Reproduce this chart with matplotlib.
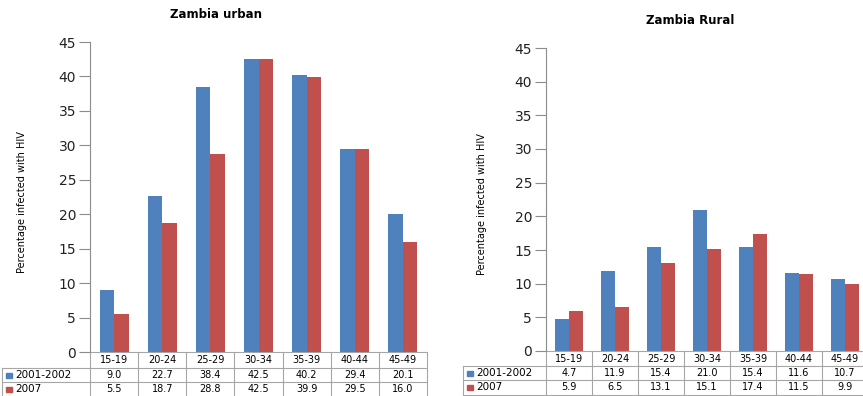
import matplotlib
matplotlib.use("Agg")
import matplotlib.pyplot as plt
from matplotlib.transforms import blended_transform_factory
from matplotlib.patches import Rectangle

GRUPOS = ["15-19", "20-24", "25-29", "30-34", "35-39", "40-44", "45-49"]
SERIES = ["2001-2002", "2007"]
URBANO_2001 = [9.0, 22.7, 38.4, 42.5, 40.2, 29.4, 20.1]
URBANO_2007 = [5.5, 18.7, 28.8, 42.5, 39.9, 29.5, 16.0]
RURAL_2001 = [4.7, 11.9, 15.4, 21.0, 15.4, 11.6, 10.7]
RURAL_2007 = [5.9, 6.5, 13.1, 15.1, 17.4, 11.5, 9.9]

CORES = ["#4F81BD", "#C0504D"]
CINZA = "#8C8C8C"
W, H = 863, 396

fig = plt.figure(figsize=(W / 100, H / 100), dpi=100)


def fx(x):
    return x / W


def fy(y):
    # y em pixels a partir do topo
    return 1 - y / H


def painel(x0, x1, ytop, ybot, titulo, tx, ty, series, lab_x, linhas, leg_x0):
    ax = fig.add_axes([fx(x0), fy(ybot), fx(x1 - x0), fy(ytop) - fy(ybot)])
    n = len(GRUPOS)
    pos = list(range(n))
    larg = 0.3
    for i, (vals, cor) in enumerate(zip(series, CORES)):
        ax.bar([p + (i - 0.5) * larg for p in pos], vals, width=larg,
               color=cor, edgecolor="none")
    ax.set_xlim(-0.5, n - 0.5)
    ax.set_ylim(0, 45)
    ax.set_yticks(range(0, 46, 5))
    ax.set_xticks([])
    for s in ["top", "right", "bottom"]:
        ax.spines[s].set_visible(False)
    ax.spines["left"].set_color(CINZA)
    ax.tick_params(axis="y", length=8, color=CINZA, labelsize=10,
                   pad=2, labelcolor="#222222")
    fig.text(fx(tx), fy(ty), titulo, ha="center", va="center",
             fontsize=8.5, fontweight="bold")
    fig.text(fx(lab_x), fy((ytop + ybot) / 2 + 5),
             "Percentage infected with HIV", rotation=90,
             ha="center", va="center", fontsize=7)

    # tabela de dados abaixo do eixo
    tr = blended_transform_factory(ax.transData, fig.transFigure)
    y_top, y_l1, y_l2, y_bot = linhas
    kw = dict(color="#A6A6A6", lw=0.8, clip_on=False)
    for y in (y_top, y_l1, y_l2, y_bot):
        ax.plot([-0.5, n - 0.5], [fy(y)] * 2, transform=tr, **kw)
    for i in range(n + 1):
        ax.plot([i - 0.5] * 2, [fy(y_top), fy(y_bot)], transform=tr, **kw)
    fl = fig.transFigure
    for y in (y_l1, y_l2, y_bot):
        fig.add_artist(plt.Line2D([fx(leg_x0), fx(x0)], [fy(y)] * 2,
                                  transform=fl, color="#A6A6A6", lw=0.8))
    fig.add_artist(plt.Line2D([fx(leg_x0)] * 2, [fy(y_l1), fy(y_bot)],
                              transform=fl, color="#A6A6A6", lw=0.8))

    yc = [(y_top + y_l1) / 2, (y_l1 + y_l2) / 2, (y_l2 + y_bot) / 2]
    for i, g in enumerate(GRUPOS):
        ax.text(i, fy(yc[0]), g, transform=tr, ha="center", va="center",
                fontsize=7, clip_on=False)
        for r, vals in enumerate(series):
            ax.text(i, fy(yc[r + 1]), f"{vals[i]:.1f}", transform=tr,
                    ha="center", va="center", fontsize=7, clip_on=False)
    for r, (nome, cor) in enumerate(zip(SERIES, CORES)):
        fig.add_artist(Rectangle((fx(leg_x0 + 4), fy(yc[r + 1] + 2.5)),
                                 fx(6), fy(0) - fy(5), transform=fl,
                                 color=cor))
        fig.text(fx(leg_x0 + 13), fy(yc[r + 1]), nome, ha="left",
                 va="center", fontsize=7.5)
    return ax


painel(90, 427, 42, 352, "Zambia urban", 216, 15,
       [URBANO_2001, URBANO_2007], 22, (352, 368, 382, 397), 2)
painel(546, 868, 48, 351, "Zambia Rural", 690, 21,
       [RURAL_2001, RURAL_2007], 482, (351, 366, 380, 395), 463)

fig.savefig("out.png", dpi=100)
